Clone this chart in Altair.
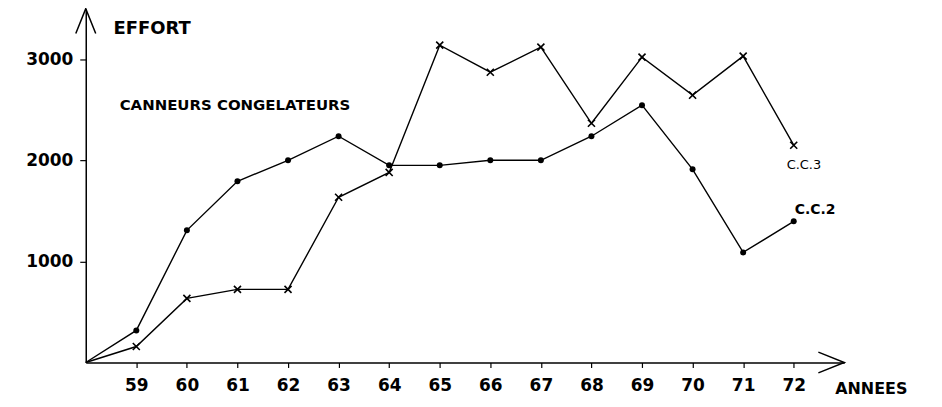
import altair as alt
import pandas as pd

# ---- data ----
years = list(range(58, 73))
cc2 = [0, 317, 1307, 1792, 2000, 2238, 1950, 1950, 2000, 2000, 2238, 2545, 1911, 1089, 1396]
cc3 = [0, 158, 634, 723, 723, 1634, 1880, 3139, 2871, 3119, 2366, 3020, 2644, 3030, 2149]
x_ticks = list(range(59, 73))
y_ticks = [1000, 2000, 3000]

label_text = ["EFFORT", "CANNEURS  CONGELATEURS", "C.C.3", "C.C.2", "ANNEES"]
label_x = [58.55, 58.67, 71.86, 72.02, 72.82]
label_y = [3303, 2544, 1952, 1508, -262]

df = pd.DataFrame({
    "annee": years * 2,
    "effort": cc2 + cc3,
    "serie": ["C.C.2"] * len(years) + ["C.C.3"] * len(years),
})

FONT = "DejaVu Sans"
xs = alt.Scale(domain=[58, 73], nice=False, zero=False)
ys = alt.Scale(domain=[0, 3500], nice=False)

x_axis = alt.Axis(values=x_ticks, title=None, grid=False, tickSize=5, labelPadding=10,
                  labelFontSize=17, labelFont=FONT, labelFontWeight="bold", labelColor="black",
                  tickColor="black", domainColor="black", domainWidth=1.5, tickWidth=1.2,
                  labelFlush=False, labelOverlap=False, format="d")
y_axis = alt.Axis(values=y_ticks, title=None, grid=False, tickSize=6, labelPadding=7,
                  labelFontSize=17, labelFont=FONT, labelFontWeight="bold", labelColor="black",
                  tickColor="black", domainColor="black", domainWidth=1.5, tickWidth=1.2,
                  labelFlush=False, labelOverlap=False, format="d")


def X(field="annee"):
    return alt.X(f"{field}:Q", scale=xs, axis=x_axis)


def Y(field="effort"):
    return alt.Y(f"{field}:Q", scale=ys, axis=y_axis)


base = alt.Chart(df)

lines = base.mark_line(color="black", strokeWidth=1.4).encode(
    x=X(), y=Y(), detail="serie:N", order="annee:Q")

pts2 = base.transform_filter("datum.serie == 'C.C.2' && datum.annee > 58").mark_point(
    shape="circle", filled=True, size=36, color="black", opacity=1).encode(x=X(), y=Y())

pts3 = base.transform_filter("datum.serie == 'C.C.3' && datum.annee > 58").mark_point(
    shape="M-1,-1L1,1M-1,1L1,-1", filled=False, size=50, stroke="black",
    strokeWidth=1.6, opacity=1).encode(x=X(), y=Y())

# arrow heads at the axis ends
arrow_up = alt.Chart(pd.DataFrame({"annee": [58], "effort": [3500]})).mark_point(
    shape="M-0.8,2L0,0L0.8,2", filled=False, size=625, stroke="black",
    strokeWidth=1.5, opacity=1).encode(x=X(), y=Y())
arrow_right = alt.Chart(pd.DataFrame({"annee": [73], "effort": [0]})).mark_point(
    shape="M-2,-0.8L0,0L-2,0.8", filled=False, size=676, stroke="black",
    strokeWidth=1.5, opacity=1).encode(x=X(), y=Y())

labels = pd.DataFrame({"t": label_text, "annee": label_x, "effort": label_y})
sizes = [18, 15, 13, 14, 16]
weights = ["bold", "bold", "normal", "bold", "bold"]
texts = []
for i in range(len(label_text)):
    texts.append(
        alt.Chart(labels.iloc[[i]]).mark_text(
            align="left", baseline="middle", font=FONT, fontSize=sizes[i],
            fontWeight=weights[i], color="black").encode(x=X(), y=Y(), text="t:N"))

chart = alt.layer(lines, pts2, pts3, arrow_up, arrow_right, *texts).properties(
    width=761, height=355,
    padding={"left": 78, "top": 0, "right": 90, "bottom": 36},
    autosize="none",
    background="white",
).configure_view(stroke=None)

chart.save("out.html", embed_options={"renderer": "svg", "actions": False})
